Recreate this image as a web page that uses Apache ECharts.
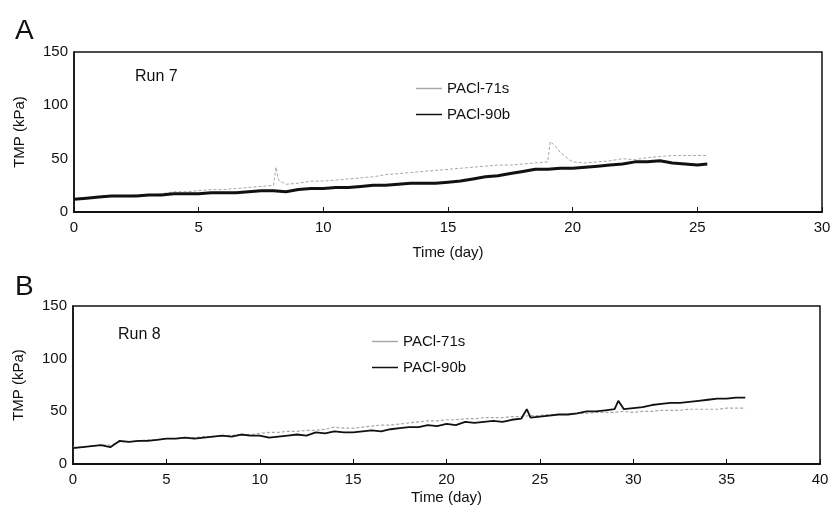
<!DOCTYPE html>
<html>
<head>
<meta charset="utf-8">
<script src="https://cdn.jsdelivr.net/npm/echarts@6/dist/echarts.min.js"></script>
<style>
html, body { margin: 0; padding: 0; background: #fff; }
#main { width: 831px; height: 515px; }
</style>
</head>
<body>
<div id="main"></div>
<script>
// Run 7 (panel A)
var daysA90 = [0,0.5,1,1.5,2,2.5,3,3.5,4,4.5,5,5.5,6,6.5,7,7.5,8,8.5,9,9.5,10,10.5,11,11.5,12,12.5,13,13.5,14,14.5,15,15.5,16,16.5,17,17.5,18,18.5,19,19.5,20,20.5,21,21.5,22,22.5,23,23.5,24,24.5,25,25.4];
var tmpA90 = [12,13,14,15,15,15,16,16,17,17,17,18,18,18,19,20,20,19,21,22,22,23,23,24,25,25,26,27,27,27,28,29,31,33,34,36,38,40,40,41,41,42,43,44,45,47,47,48,46,45,44,45];
var daysA71 = [0,0.5,1,1.5,2,2.5,3,3.5,4,4.5,5,5.5,6,6.5,7,7.5,8,8.1,8.2,8.5,9,9.5,10,10.5,11,11.5,12,12.5,13,13.5,14,14.5,15,15.5,16,16.5,17,17.5,18,18.5,19,19.1,19.3,19.5,19.8,20,20.5,21,21.5,22,22.5,23,23.5,24,24.5,25,25.4];
var tmpA71 = [12,13,14,15,15,16,16,17,19,19,20,21,21,22,23,24,25,42,30,26,27,29,29,30,31,32,33,35,36,37,38,39,40,41,42,43,44,44,45,46,47,66,62,56,50,47,46,47,48,50,49,51,52,53,53,53,53];

// Run 8 (panel B)
var daysB90 = [0,0.5,1,1.5,2,2.5,3,3.5,4,4.5,5,5.5,6,6.5,7,7.5,8,8.5,9,9.5,10,10.5,11,11.5,12,12.5,13,13.5,14,14.5,15,15.5,16,16.5,17,17.5,18,18.5,19,19.5,20,20.5,21,21.5,22,22.5,23,23.5,24,24.3,24.5,25,25.5,26,26.5,27,27.5,28,28.5,29,29.2,29.5,30,30.5,31,31.5,32,32.5,33,33.5,34,34.5,35,35.5,36];
var tmpB90 = [15,16,17,18,16,22,21,22,22,23,24,24,25,24,25,26,27,26,28,27,27,25,26,27,28,27,30,29,31,30,30,31,32,31,33,34,35,35,37,36,38,37,40,39,40,41,40,42,43,52,44,45,46,47,47,48,50,50,51,52,60,52,53,54,56,57,58,58,59,60,61,62,62,63,63];
var daysB71 = [0,0.5,1,1.5,2,2.5,3,3.5,4,4.5,5,5.5,6,6.5,7,7.5,8,8.5,9,9.5,10,10.5,11,11.5,12,12.5,13,13.5,14,14.5,15,15.5,16,16.5,17,17.5,18,18.5,19,19.5,20,20.5,21,21.5,22,22.5,23,23.5,24,24.5,25,25.5,26,26.5,27,27.5,28,28.5,29,29.5,30,30.5,31,31.5,32,32.5,33,33.5,34,34.5,35,35.5,36];
var tmpB71 = [16,16,17,18,18,21,21,22,23,23,24,24,25,25,26,26,27,27,28,28,29,30,30,31,31,32,32,33,35,34,34,35,36,37,37,38,39,40,41,41,42,42,43,43,44,44,44,45,45,46,46,47,47,47,48,48,49,49,49,50,49,50,50,51,51,51,52,52,52,52,53,53,53];

var xTicksA = [0, 30, 5];
var xTicksB = [0, 40, 5];
var yTicks = [0, 150, 50];

function pairs(xs, ys) {
    var out = [];
    for (var i = 0; i < xs.length; i++) out.push([xs[i], ys[i]]);
    return out;
}

var font = 'Liberation Sans, Arial, sans-serif';
var black = '#111';
var grey = '#a8a8a8';

function xAxisOf(idx, t, gap) {
    return {
        type: 'value', gridIndex: idx, min: t[0], max: t[1], interval: t[2],
        name: 'Time (day)', nameLocation: 'middle', nameGap: gap,
        nameTextStyle: { color: black, fontSize: 15, fontFamily: font },
        axisLine: { show: true, lineStyle: { color: black, width: 2 } },
        axisTick: { show: true, inside: true, length: 5, lineStyle: { color: black } },
        axisLabel: { color: black, fontSize: 15, fontFamily: font, margin: 8 },
        splitLine: { show: false }
    };
}
function yAxisOf(idx) {
    return {
        type: 'value', gridIndex: idx, min: yTicks[0], max: yTicks[1], interval: yTicks[2],
        name: 'TMP (kPa)', nameLocation: 'middle', nameGap: 47,
        nameTextStyle: { color: black, fontSize: 15, fontFamily: font },
        axisLine: { show: true, lineStyle: { color: black, width: 1.5 } },
        axisTick: { show: false },
        axisLabel: { color: black, fontSize: 15, fontFamily: font, margin: 6 },
        splitLine: { show: false }
    };
}
function legendOf(left, top) {
    return {
        left: left, top: top, orient: 'vertical', itemGap: 11,
        itemWidth: 26, itemHeight: 1.5, icon: 'rect',
        textStyle: { color: black, fontSize: 15, fontFamily: font },
        data: ['PACl-71s', 'PACl-90b']
    };
}
function lineOf(name, idx, data, color, width, dash) {
    return {
        name: name, type: 'line', xAxisIndex: idx, yAxisIndex: idx,
        data: data, showSymbol: false, symbol: 'none', animation: false,
        itemStyle: { color: color },
        lineStyle: { color: color, width: width, type: dash || 'solid' }
    };
}

var chart = echarts.init(document.getElementById('main'));
var option = {
    backgroundColor: '#fff',
    animation: false,
    title: [
        { text: 'A', left: 10, top: 12, textStyle: { fontSize: 28, fontWeight: 'normal', color: black, fontFamily: font } },
        { text: 'Run 7', left: 130, top: 64, textStyle: { fontSize: 16, fontWeight: 'normal', color: black, fontFamily: font } },
        { text: 'B', left: 10, top: 268, textStyle: { fontSize: 28, fontWeight: 'normal', color: black, fontFamily: font } },
        { text: 'Run 8', left: 113, top: 322, textStyle: { fontSize: 16, fontWeight: 'normal', color: black, fontFamily: font } }
    ],
    legend: [legendOf(411, 76), legendOf(367, 329)],
    grid: [
        { left: 74, top: 52, width: 748, height: 160, show: true, borderColor: black, borderWidth: 1.5, outerBoundsMode: 'none', containLabel: false },
        { left: 73, top: 306, width: 747, height: 158, show: true, borderColor: black, borderWidth: 1.5, outerBoundsMode: 'none', containLabel: false }
    ],
    xAxis: [xAxisOf(0, xTicksA, 33), xAxisOf(1, xTicksB, 26)],
    yAxis: [yAxisOf(0), yAxisOf(1)],
    series: [
        lineOf('PACl-71s', 0, pairs(daysA71, tmpA71), grey, 1, [3, 2]),
        lineOf('PACl-90b', 0, pairs(daysA90, tmpA90), black, 3),
        lineOf('PACl-71s', 1, pairs(daysB71, tmpB71), grey, 1.2, [3, 2]),
        lineOf('PACl-90b', 1, pairs(daysB90, tmpB90), black, 1.8)
    ]
};
chart.setOption(option);
window.onresize = function () { chart.resize(); };
</script>
</body>
</html>
